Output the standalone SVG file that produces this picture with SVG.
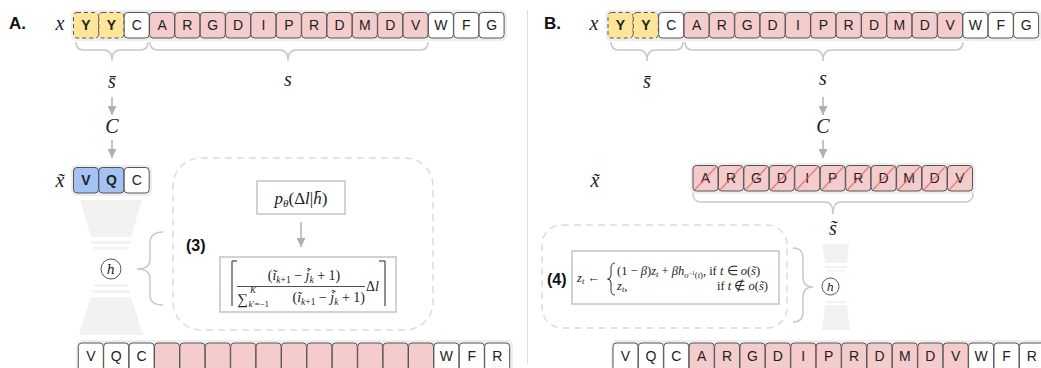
<svg xmlns="http://www.w3.org/2000/svg" width="1041" height="368" viewBox="0 0 1041 368">
<style>
.tok{stroke:#555;stroke-width:1}
.w{fill:#fff}
.pk{fill:#f4cccc}
.yl{fill:#ffe599;stroke-dasharray:4 3}
.bl{fill:#a4c2f4}
.lt{font-family:"Liberation Sans",Arial,sans-serif;font-size:14px;fill:#222;text-anchor:middle}
.b{font-weight:bold}
.m{font-family:"Liberation Serif","Times New Roman",serif;fill:#222}
.i{font-style:italic}
.lbl{font-family:"Liberation Serif","Times New Roman",serif;font-style:italic;font-size:20px;fill:#222;text-anchor:middle}
.hc{font-family:"DejaVu Serif",serif;font-style:italic;fill:#222;text-anchor:middle}
.hd{font-family:"Liberation Sans",Arial,sans-serif;font-weight:bold;font-size:17px;fill:#111}
.eq{font-family:"Liberation Sans",Arial,sans-serif;font-weight:bold;font-size:16px;fill:#111}
.brace{fill:none;stroke:#c8c8c8;stroke-width:1.5}
.arr{stroke:#b0b0b0;stroke-width:1.5;fill:none}
.cont{fill:#eeeeee}
.hg{fill:#f2f2f2}
.dash{fill:none;stroke:#dcdcdc;stroke-width:1.5;stroke-dasharray:7 5}
.fbox{fill:#fff;stroke:#c4c4c4;stroke-width:1.5}
.strike{stroke:#e06666;stroke-width:1.2;opacity:0.8}
</style>
<defs>
<marker id="ah" viewBox="0 0 10 10" markerWidth="9" markerHeight="9" refX="10" refY="5" orient="auto" markerUnits="userSpaceOnUse">
<path d="M0,0 L10,5 L0,10 z" fill="#b0b0b0"/>
</marker>
</defs>

<!-- divider -->
<line x1="527.5" y1="10" x2="527.5" y2="364" stroke="#dddddd" stroke-width="1"/>

<!-- ================= Panel A ================= -->
<g id="A-heading"><text class="hd" x="9" y="29">A.</text></g>
<g id="A-x-label"><text class="lbl" x="60" y="30">x</text></g>

<g id="A-x-row">
<rect class="cont" x="71" y="10" width="436" height="31" rx="5"/>
<g transform="translate(73.5,12.5)">
<rect class="tok yl" x="0" y="0" width="25" height="25.5" rx="3.5"/><text class="lt b" x="12.5" y="17.5">Y</text>
<rect class="tok yl" x="25.35" y="0" width="25" height="25.5" rx="3.5"/><text class="lt b" x="37.85" y="17.5">Y</text>
<rect class="tok w" x="50.7" y="0" width="25" height="25.5" rx="3.5"/><text class="lt" x="63.2" y="17.5">C</text>
<rect class="tok pk" x="76.05" y="0" width="25" height="25.5" rx="3.5"/><text class="lt" x="88.55" y="17.5">A</text>
<rect class="tok pk" x="101.4" y="0" width="25" height="25.5" rx="3.5"/><text class="lt" x="113.9" y="17.5">R</text>
<rect class="tok pk" x="126.75" y="0" width="25" height="25.5" rx="3.5"/><text class="lt" x="139.25" y="17.5">G</text>
<rect class="tok pk" x="152.1" y="0" width="25" height="25.5" rx="3.5"/><text class="lt" x="164.6" y="17.5">D</text>
<rect class="tok pk" x="177.45" y="0" width="25" height="25.5" rx="3.5"/><text class="lt" x="189.95" y="17.5">I</text>
<rect class="tok pk" x="202.8" y="0" width="25" height="25.5" rx="3.5"/><text class="lt" x="215.3" y="17.5">P</text>
<rect class="tok pk" x="228.15" y="0" width="25" height="25.5" rx="3.5"/><text class="lt" x="240.65" y="17.5">R</text>
<rect class="tok pk" x="253.5" y="0" width="25" height="25.5" rx="3.5"/><text class="lt" x="266" y="17.5">D</text>
<rect class="tok pk" x="278.85" y="0" width="25" height="25.5" rx="3.5"/><text class="lt" x="291.35" y="17.5">M</text>
<rect class="tok pk" x="304.2" y="0" width="25" height="25.5" rx="3.5"/><text class="lt" x="316.7" y="17.5">D</text>
<rect class="tok pk" x="329.55" y="0" width="25" height="25.5" rx="3.5"/><text class="lt" x="342.05" y="17.5">V</text>
<rect class="tok w" x="354.9" y="0" width="25" height="25.5" rx="3.5"/><text class="lt" x="367.4" y="17.5">W</text>
<rect class="tok w" x="380.25" y="0" width="25" height="25.5" rx="3.5"/><text class="lt" x="392.75" y="17.5">F</text>
<rect class="tok w" x="405.6" y="0" width="25" height="25.5" rx="3.5"/><text class="lt" x="418.1" y="17.5">G</text>
</g>
</g>

<g id="A-sbar-label"><text class="lbl" x="112" y="88">s̄</text></g>
<g id="A-s-label"><text class="lbl" x="288" y="86">s</text></g>
<g id="A-C-label"><text class="lbl" x="112" y="133">C</text></g>
<g id="A-xt-label"><text class="lbl" x="60" y="187">x̃</text></g>

<g id="A-xt-row">
<rect class="cont" x="71" y="165" width="81" height="31" rx="5"/>
<g transform="translate(73.5,167.5)">
<rect class="tok bl" x="0" y="0" width="25" height="25.5" rx="3.5"/><text class="lt b" x="12.5" y="17.5">V</text>
<rect class="tok bl" x="25.35" y="0" width="25" height="25.5" rx="3.5"/><text class="lt b" x="37.85" y="17.5">Q</text>
<rect class="tok w" x="50.7" y="0" width="25" height="25.5" rx="3.5"/><text class="lt" x="63.2" y="17.5">C</text>
</g>
</g>

<g id="A-hourglass">
<polygon class="hg" points="80,200 142,200 131,237 91,237"/>
<rect class="hg" x="91" y="241" width="40" height="3"/>
<rect class="hg" x="94" y="247" width="34" height="2.5"/>
<rect class="hg" x="94" y="284" width="34" height="2.5"/>
<rect class="hg" x="92" y="290" width="38" height="3"/>
<polygon class="hg" points="91,297 131,297 143,335 79,335"/>
<circle cx="111" cy="269" r="10" fill="#fff" stroke="#555" stroke-width="1"/>
<text class="hc" x="111" y="273.5" font-size="13">h</text>
</g>

<g id="A-eq3">
<rect class="dash" x="173" y="158" width="260" height="172" rx="28"/>
<text class="eq" x="186" y="251">(3)</text>
</g>

<g id="A-p-box">
<rect class="fbox" x="257" y="181" width="88" height="33"/>
<text class="m" x="301" y="204" font-size="17" text-anchor="middle"><tspan class="i">p</tspan><tspan class="i" font-size="11" dy="3">θ</tspan><tspan dy="-3">(Δ</tspan><tspan class="i">l</tspan>|<tspan class="i">h̄</tspan>)</text>
</g>

<g id="A-formula-box">
<rect class="fbox" x="220" y="257" width="176" height="55"/>
<path d="M237,261 L232,261 L232,306" fill="none" stroke="#222" stroke-width="1"/>
<path d="M379,261 L385,261 L385,306" fill="none" stroke="#222" stroke-width="1"/>
<text class="m" x="304" y="280" font-size="14" text-anchor="middle">(<tspan class="i">ĩ</tspan><tspan class="i" font-size="9.5" dy="2.5">k</tspan><tspan font-size="9.5">+1</tspan><tspan dy="-2.5"> − </tspan><tspan class="i">j̃</tspan><tspan class="i" font-size="9.5" dy="2.5">k</tspan><tspan dy="-2.5"> + 1)</tspan></text>
<line x1="237" y1="286.5" x2="365" y2="286.5" stroke="#222" stroke-width="0.8"/>
<text class="m" x="237" y="304" font-size="15">∑</text>
<text class="m" x="250" y="293" font-size="9"><tspan class="i">K</tspan></text>
<text class="m" x="248.5" y="307" font-size="9"><tspan class="i">k</tspan>′=−1</text>
<text class="m" x="365" y="302" font-size="14" text-anchor="end">(<tspan class="i">ĩ</tspan><tspan class="i" font-size="9.5" dy="2.5">k</tspan><tspan font-size="9.5">+1</tspan><tspan dy="-2.5"> − </tspan><tspan class="i">j̃</tspan><tspan class="i" font-size="9.5" dy="2.5">k</tspan><tspan dy="-2.5"> + 1)</tspan></text>
<text class="m" x="366" y="291" font-size="14">Δ<tspan class="i">l</tspan></text>
</g>

<g id="A-out-row">
<rect class="cont" x="76" y="340" width="437" height="32" rx="5"/>
<g transform="translate(78.3,343)">
<rect class="tok w" x="0" y="0" width="25" height="28" rx="3.5"/><text class="lt" x="12.5" y="17.5">V</text>
<rect class="tok w" x="25.4" y="0" width="25" height="28" rx="3.5"/><text class="lt" x="37.9" y="17.5">Q</text>
<rect class="tok w" x="50.8" y="0" width="25" height="28" rx="3.5"/><text class="lt" x="63.3" y="17.5">C</text>
<rect class="tok pk" x="76.2" y="0" width="25" height="28" rx="3.5"/>
<rect class="tok pk" x="101.6" y="0" width="25" height="28" rx="3.5"/>
<rect class="tok pk" x="127" y="0" width="25" height="28" rx="3.5"/>
<rect class="tok pk" x="152.4" y="0" width="25" height="28" rx="3.5"/>
<rect class="tok pk" x="177.8" y="0" width="25" height="28" rx="3.5"/>
<rect class="tok pk" x="203.2" y="0" width="25" height="28" rx="3.5"/>
<rect class="tok pk" x="228.6" y="0" width="25" height="28" rx="3.5"/>
<rect class="tok pk" x="254" y="0" width="25" height="28" rx="3.5"/>
<rect class="tok pk" x="279.4" y="0" width="25" height="28" rx="3.5"/>
<rect class="tok pk" x="304.8" y="0" width="25" height="28" rx="3.5"/>
<rect class="tok pk" x="330.2" y="0" width="25" height="28" rx="3.5"/>
<rect class="tok w" x="355.6" y="0" width="25" height="28" rx="3.5"/><text class="lt" x="368.1" y="17.5">W</text>
<rect class="tok w" x="381" y="0" width="25" height="28" rx="3.5"/><text class="lt" x="393.5" y="17.5">F</text>
<rect class="tok w" x="406.4" y="0" width="25" height="28" rx="3.5"/><text class="lt" x="418.9" y="17.5">R</text>
</g>
</g>

<!-- ================= Panel B ================= -->
<g id="B-heading"><text class="hd" x="544" y="29">B.</text></g>
<g id="B-x-label"><text class="lbl" x="594" y="30">x</text></g>

<g id="B-x-row">
<rect class="cont" x="605.5" y="10" width="436" height="31" rx="5"/>
<g transform="translate(608,12.5)">
<rect class="tok yl" x="0" y="0" width="25" height="25.5" rx="3.5"/><text class="lt b" x="12.5" y="17.5">Y</text>
<rect class="tok yl" x="25.35" y="0" width="25" height="25.5" rx="3.5"/><text class="lt b" x="37.85" y="17.5">Y</text>
<rect class="tok w" x="50.7" y="0" width="25" height="25.5" rx="3.5"/><text class="lt" x="63.2" y="17.5">C</text>
<rect class="tok pk" x="76.05" y="0" width="25" height="25.5" rx="3.5"/><text class="lt" x="88.55" y="17.5">A</text>
<rect class="tok pk" x="101.4" y="0" width="25" height="25.5" rx="3.5"/><text class="lt" x="113.9" y="17.5">R</text>
<rect class="tok pk" x="126.75" y="0" width="25" height="25.5" rx="3.5"/><text class="lt" x="139.25" y="17.5">G</text>
<rect class="tok pk" x="152.1" y="0" width="25" height="25.5" rx="3.5"/><text class="lt" x="164.6" y="17.5">D</text>
<rect class="tok pk" x="177.45" y="0" width="25" height="25.5" rx="3.5"/><text class="lt" x="189.95" y="17.5">I</text>
<rect class="tok pk" x="202.8" y="0" width="25" height="25.5" rx="3.5"/><text class="lt" x="215.3" y="17.5">P</text>
<rect class="tok pk" x="228.15" y="0" width="25" height="25.5" rx="3.5"/><text class="lt" x="240.65" y="17.5">R</text>
<rect class="tok pk" x="253.5" y="0" width="25" height="25.5" rx="3.5"/><text class="lt" x="266" y="17.5">D</text>
<rect class="tok pk" x="278.85" y="0" width="25" height="25.5" rx="3.5"/><text class="lt" x="291.35" y="17.5">M</text>
<rect class="tok pk" x="304.2" y="0" width="25" height="25.5" rx="3.5"/><text class="lt" x="316.7" y="17.5">D</text>
<rect class="tok pk" x="329.55" y="0" width="25" height="25.5" rx="3.5"/><text class="lt" x="342.05" y="17.5">V</text>
<rect class="tok w" x="354.9" y="0" width="25" height="25.5" rx="3.5"/><text class="lt" x="367.4" y="17.5">W</text>
<rect class="tok w" x="380.25" y="0" width="25" height="25.5" rx="3.5"/><text class="lt" x="392.75" y="17.5">F</text>
<rect class="tok w" x="405.6" y="0" width="25" height="25.5" rx="3.5"/><text class="lt" x="418.1" y="17.5">G</text>
</g>
</g>

<g id="B-sbar-label"><text class="lbl" x="647" y="88">s̄</text></g>
<g id="B-s-label"><text class="lbl" x="823" y="85">s</text></g>
<g id="B-C-label"><text class="lbl" x="823" y="133">C</text></g>
<g id="B-xt-label"><text class="lbl" x="595" y="187">x̃</text></g>

<g id="B-xt-row">
<rect class="cont" x="690.5" y="163" width="285" height="31" rx="5"/>
<g transform="translate(693,165.5)">
<rect class="tok pk" x="0" y="0" width="25" height="25.5" rx="3.5"/><text class="lt" x="12.5" y="17.5">A</text>
<rect class="tok pk" x="25.45" y="0" width="25" height="25.5" rx="3.5"/><text class="lt" x="37.95" y="17.5">R</text>
<rect class="tok pk" x="50.9" y="0" width="25" height="25.5" rx="3.5"/><text class="lt" x="63.4" y="17.5">G</text>
<rect class="tok pk" x="76.35" y="0" width="25" height="25.5" rx="3.5"/><text class="lt" x="88.85" y="17.5">D</text>
<rect class="tok pk" x="101.8" y="0" width="25" height="25.5" rx="3.5"/><text class="lt" x="114.3" y="17.5">I</text>
<rect class="tok pk" x="127.25" y="0" width="25" height="25.5" rx="3.5"/><text class="lt" x="139.75" y="17.5">P</text>
<rect class="tok pk" x="152.7" y="0" width="25" height="25.5" rx="3.5"/><text class="lt" x="165.2" y="17.5">R</text>
<rect class="tok pk" x="178.15" y="0" width="25" height="25.5" rx="3.5"/><text class="lt" x="190.65" y="17.5">D</text>
<rect class="tok pk" x="203.6" y="0" width="25" height="25.5" rx="3.5"/><text class="lt" x="216.1" y="17.5">M</text>
<rect class="tok pk" x="229.05" y="0" width="25" height="25.5" rx="3.5"/><text class="lt" x="241.55" y="17.5">D</text>
<rect class="tok pk" x="254.5" y="0" width="25" height="25.5" rx="3.5"/><text class="lt" x="267" y="17.5">V</text>
<line class="strike" x1="2" y1="24" x2="23" y2="1.5"/>
<line class="strike" x1="27.45" y1="24" x2="48.45" y2="1.5"/>
<line class="strike" x1="52.9" y1="24" x2="73.9" y2="1.5"/>
<line class="strike" x1="78.35" y1="24" x2="99.35" y2="1.5"/>
<line class="strike" x1="103.8" y1="24" x2="124.8" y2="1.5"/>
<line class="strike" x1="129.25" y1="24" x2="150.25" y2="1.5"/>
<line class="strike" x1="154.7" y1="24" x2="175.7" y2="1.5"/>
<line class="strike" x1="180.15" y1="24" x2="201.15" y2="1.5"/>
<line class="strike" x1="205.6" y1="24" x2="226.6" y2="1.5"/>
<line class="strike" x1="231.05" y1="24" x2="252.05" y2="1.5"/>
<line class="strike" x1="256.5" y1="24" x2="277.5" y2="1.5"/>
</g>
</g>

<g id="B-stilde-label"><text class="lbl" x="833" y="235">s̃</text></g>

<g id="B-hourglass">
<polygon class="hg" points="822,244 849,244 847,263 825,263"/>
<rect class="hg" x="825" y="266" width="22" height="2"/>
<rect class="hg" x="827" y="270" width="18" height="1.5"/>
<rect class="hg" x="826" y="301" width="20" height="2"/>
<polygon class="hg" points="825,305 847,305 850,330 822,330"/>
<circle cx="830.5" cy="286.5" r="8.5" fill="#fff" stroke="#555" stroke-width="1"/>
<text class="hc" x="830.5" y="290.5" font-size="11.5">h</text>
</g>

<g id="B-eq4">
<rect class="dash" x="542" y="225" width="245" height="103" rx="20"/>
<text class="eq" x="547" y="285">(4)</text>
</g>

<g id="B-formula-box">
<rect class="fbox" x="572" y="251" width="207" height="53"/>
<text class="m" x="577" y="282" font-size="12.5"><tspan class="i">z</tspan><tspan class="i" font-size="8.5" dy="2">t</tspan><tspan dy="-2"> ← </tspan></text>
<path d="M615,263 Q611,263 611,268 L611,275 Q611,279 607.5,279 Q611,279 611,283 L611,290 Q611,295 615,295" fill="none" stroke="#333" stroke-width="1"/>
<text class="m" x="617" y="275" font-size="12.5">(1 − <tspan class="i">β</tspan>)<tspan class="i">z</tspan><tspan class="i" font-size="8.5" dy="2">t</tspan><tspan dy="-2"> + </tspan><tspan class="i">βh</tspan><tspan class="i" font-size="8.5" dy="2.5">o</tspan><tspan font-size="6" dy="-3">−1</tspan><tspan font-size="8.5" dy="3">(</tspan><tspan class="i" font-size="8.5">t</tspan><tspan font-size="8.5">)</tspan><tspan dy="-2.5">, if </tspan><tspan class="i">t</tspan> ∈ <tspan class="i">o</tspan>(<tspan class="i">s̃</tspan>)</text>
<text class="m" x="617" y="290" font-size="12.5"><tspan class="i">z</tspan><tspan class="i" font-size="8.5" dy="2">t</tspan><tspan dy="-2">,</tspan></text>
<text class="m" x="768" y="290" font-size="12.5" text-anchor="end">if <tspan class="i">t</tspan> ∉ <tspan class="i">o</tspan>(<tspan class="i">s̃</tspan>)</text>
</g>

<g id="B-out-row">
<rect class="cont" x="611" y="340" width="440" height="32" rx="5"/>
<g transform="translate(613,343)">
<rect class="tok w" x="0" y="0" width="25" height="28" rx="3.5"/><text class="lt" x="12.5" y="17.5">V</text>
<rect class="tok w" x="25.4" y="0" width="25" height="28" rx="3.5"/><text class="lt" x="37.9" y="17.5">Q</text>
<rect class="tok w" x="50.8" y="0" width="25" height="28" rx="3.5"/><text class="lt" x="63.3" y="17.5">C</text>
<rect class="tok pk" x="76.2" y="0" width="25" height="28" rx="3.5"/><text class="lt" x="88.7" y="17.5">A</text>
<rect class="tok pk" x="101.6" y="0" width="25" height="28" rx="3.5"/><text class="lt" x="114.1" y="17.5">R</text>
<rect class="tok pk" x="127" y="0" width="25" height="28" rx="3.5"/><text class="lt" x="139.5" y="17.5">G</text>
<rect class="tok pk" x="152.4" y="0" width="25" height="28" rx="3.5"/><text class="lt" x="164.9" y="17.5">D</text>
<rect class="tok pk" x="177.8" y="0" width="25" height="28" rx="3.5"/><text class="lt" x="190.3" y="17.5">I</text>
<rect class="tok pk" x="203.2" y="0" width="25" height="28" rx="3.5"/><text class="lt" x="215.7" y="17.5">P</text>
<rect class="tok pk" x="228.6" y="0" width="25" height="28" rx="3.5"/><text class="lt" x="241.1" y="17.5">R</text>
<rect class="tok pk" x="254" y="0" width="25" height="28" rx="3.5"/><text class="lt" x="266.5" y="17.5">D</text>
<rect class="tok pk" x="279.4" y="0" width="25" height="28" rx="3.5"/><text class="lt" x="291.9" y="17.5">M</text>
<rect class="tok pk" x="304.8" y="0" width="25" height="28" rx="3.5"/><text class="lt" x="317.3" y="17.5">D</text>
<rect class="tok pk" x="330.2" y="0" width="25" height="28" rx="3.5"/><text class="lt" x="342.7" y="17.5">V</text>
<rect class="tok w" x="355.6" y="0" width="25" height="28" rx="3.5"/><text class="lt" x="368.1" y="17.5">W</text>
<rect class="tok w" x="381" y="0" width="25" height="28" rx="3.5"/><text class="lt" x="393.5" y="17.5">F</text>
<rect class="tok w" x="406.4" y="0" width="25" height="28" rx="3.5"/><text class="lt" x="418.9" y="17.5">R</text>
</g>
</g>

<!-- ================= connectors ================= -->
<g id="connectors">
<path class="brace" d="M76,42 Q76,50 84,50 L104,50 Q112,50 112,61 Q112,50 120,50 L140,50 Q148,50 148,42"/>
<path class="brace" d="M150,42 Q150,50 158,50 L280,50 Q288,50 288,61 Q288,50 296,50 L420,50 Q428,50 428,42"/>
<line class="arr" x1="112" y1="97" x2="112" y2="115" marker-end="url(#ah)"/>
<line class="arr" x1="112" y1="140" x2="112" y2="158" marker-end="url(#ah)"/>
<path class="brace" d="M163,232 Q150,232 150,243 L150,259 Q150,269 137,269 Q150,269 150,279 L150,295 Q150,305 163,305"/>
<line class="arr" x1="301" y1="222" x2="301" y2="247" marker-end="url(#ah)"/>

<path class="brace" d="M611,42 Q611,50 619,50 L639,50 Q647,50 647,61 Q647,50 655,50 L675,50 Q683,50 683,42"/>
<path class="brace" d="M685,42 Q685,50 693,50 L815,50 Q823,50 823,61 Q823,50 831,50 L955,50 Q963,50 963,42"/>
<line class="arr" x1="823" y1="97" x2="823" y2="115" marker-end="url(#ah)"/>
<line class="arr" x1="823" y1="140" x2="823" y2="158" marker-end="url(#ah)"/>
<path class="brace" d="M693,193 Q693,202 701,202 L825,202 Q833,202 833,214 Q833,202 841,202 L965,202 Q973,202 973,193"/>
<path class="brace" d="M793,248 Q803,248 803,258 L803,277 Q803,287 813,287 Q803,287 803,297 L803,312 Q803,322 793,322"/>
</g>
</svg>
